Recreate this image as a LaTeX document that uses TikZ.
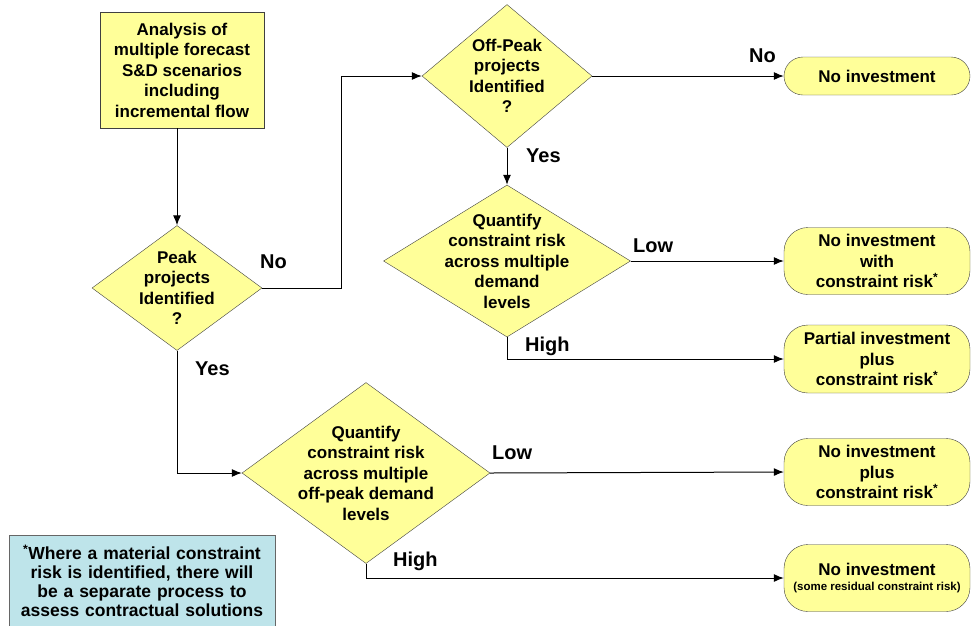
\documentclass[tikz,border=0pt]{standalone}
\usepackage{fontspec}
\setmainfont{Liberation Sans}
\usetikzlibrary{shapes.geometric,arrows.meta}
\definecolor{boxyellow}{RGB}{255,255,153}
\definecolor{noteblue}{RGB}{190,228,234}

\begin{document}
\begin{tikzpicture}[
    x=1pt, y=-1pt,
    txt/.style={font=\fontsize{17}{20.5}\selectfont\bfseries, align=center},
    process/.style={rectangle, draw=black!75, fill=boxyellow, txt, minimum width=164pt, minimum height=116pt, inner sep=0pt},
    decision/.style={diamond, draw=black!75, fill=boxyellow, txt, inner sep=-40pt},
    terminal/.style={rectangle, rounded corners=24pt, draw=black!75, fill=boxyellow, txt, minimum width=186pt, minimum height=67pt, inner sep=0pt},
    answer/.style={font=\fontsize{20}{24}\selectfont\bfseries, anchor=base west, inner sep=0pt},
    flow/.style={draw=black, line width=1pt, -{Latex[length=10pt,width=8pt]}},
    notebox/.style={rectangle, draw=black!60, fill=noteblue, font=\fontsize{17.5}{19}\selectfont\bfseries, align=center, text width=262pt, minimum width=266pt, inner xsep=2pt, inner ysep=10pt}
]
\useasboundingbox (0,0) rectangle (971,625);

% Start
\node[process] (analysis) at (182,70) {Analysis of\\multiple forecast\\S\&D scenarios\\including\\incremental flow};

% Decisions
\node[decision, minimum width=170pt, minimum height=125pt] (peak) at (177,288) {Peak\\projects\\Identified\\?};
\node[decision, minimum width=170pt, minimum height=143pt] (offpeak) at (507,76) {Off-Peak\\projects\\Identified\\?};
\node[decision, minimum width=247pt, minimum height=152pt] (riskone) at (507,261) {Quantify\\constraint risk\\across multiple\\demand\\levels};
\node[decision, minimum width=248pt, minimum height=181pt] (risktwo) at (366,473) {Quantify\\constraint risk\\across multiple\\off-peak demand\\levels};

% Outcomes
\node[terminal, minimum height=38pt, rounded corners=19pt] (noinv) at (877,76) {No investment};
\node[terminal] (noinvwith) at (877,261) {No investment\\with\\constraint risk\textsuperscript{*}};
\node[terminal, minimum height=68pt] (partial) at (877,359) {Partial investment\\plus\\constraint risk\textsuperscript{*}};
\node[terminal] (noinvplus) at (877,472) {No investment\\plus\\constraint risk\textsuperscript{*}};
\node[terminal] (noinvres) at (877,578) {No investment\\[-5pt]{\fontsize{11.5}{13}\selectfont(some residual constraint risk)}};

% Note
\node[notebox, anchor=north] (note) at (142,535) {\textsuperscript{*}Where a material constraint risk is identified, there will be a separate process to assess contractual solutions};

% Connectors
\draw[flow] (analysis.south -| peak.north) -- (peak.north);
\draw[flow] (peak.east) -- ++(79,0) |- (offpeak.west);
\draw[flow] (peak.south) |- (risktwo.west);
\draw[flow] (offpeak.east) -- (noinv.west);
\draw[flow] (offpeak.south) -- (riskone.north);
\draw[flow] (riskone.east) -- (noinvwith.west);
\draw[flow] (riskone.south) |- (partial.west);
\draw[flow] (risktwo.east) -- (noinvplus.west);
\draw[flow] (risktwo.south) |- (noinvres.west);

% Answers
\node[answer] (nopeak) at (260,268) {No};
\node[answer] (yespeak) at (195,375) {Yes};
\node[answer] (nooff) at (749,62) {No};
\node[answer] (yesoff) at (526,162) {Yes};
\node[answer] (lowone) at (633,252) {Low};
\node[answer] (highone) at (525,351) {High};
\node[answer] (lowtwo) at (492,459) {Low};
\node[answer] (hightwo) at (393,566) {High};

\end{tikzpicture}
\end{document}
